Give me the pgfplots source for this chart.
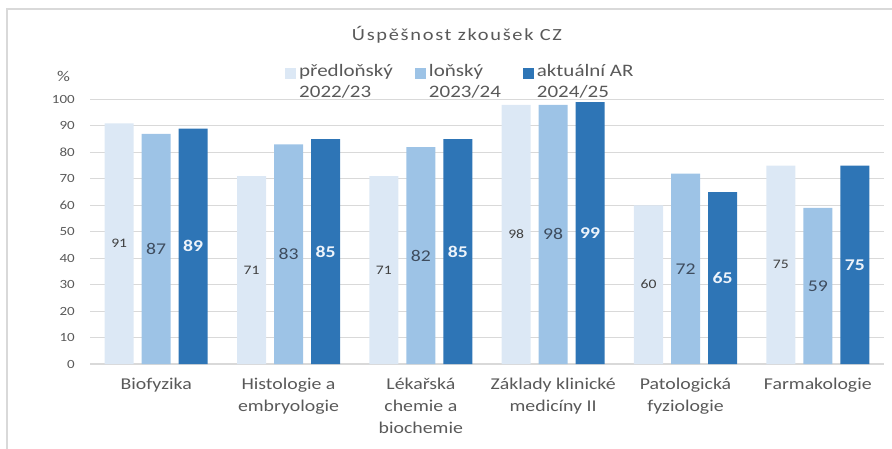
\documentclass[border=0pt]{standalone}
\usepackage{pgfplots}
\pgfplotsset{compat=1.18}
\usepackage{fontspec}
\setmainfont{Carlito}[FakeStretch=1.2]
\newfontfamily\titlefont{Carlito}[FakeStretch=1.2,LetterSpace=10]
\definecolor{cLight}{HTML}{DCE8F5}
\definecolor{cMid}{HTML}{9DC3E6}
\definecolor{cDark}{HTML}{2E75B6}
\definecolor{txt}{HTML}{595959}
\definecolor{gridc}{HTML}{D9D9D9}
\definecolor{lblLight}{HTML}{404040}
\definecolor{lblMid}{HTML}{3E4C5E}
\definecolor{lblDark}{HTML}{EEF4FB}
\begin{document}
\begin{tikzpicture}[x=1pt,y=1pt]
\useasboundingbox (0,0) rectangle (892,448);
\draw[gridc, line width=1.5pt] (7,-10) -- (7,439) -- (900,439);
\begin{axis}[
  at={(90pt,84pt)}, anchor=south west,
  scale only axis, width=794pt, height=264.5pt,
  xmin=-0.5, xmax=5.5, ymin=0, ymax=100,
  enlargelimits=false, clip=false,
  axis lines*=left,
  x axis line style={draw=gridc, line width=1.2pt},
  y axis line style={draw=none},
  major tick length=0pt,
  ymajorgrids, grid style={draw=gridc, line width=1pt},
  ytick={0,10,...,100},
  xtick={0,...,5},
  xticklabels={Biofyzika, {Histologie a\\embryologie}, {Lékařská\\chemie a\\biochemie}, {Základy klinické\\medicíny II}, {Patologická\\fyziologie}, Farmakologie},
  xticklabel style={align=center, anchor=north, inner sep=0pt, yshift=-14pt, text=txt, font=\fontsize{16.5}{21.7}\selectfont},
  yticklabel style={anchor=east, inner sep=0pt, xshift=-15pt, text=txt, font=\fontsize{12.5}{14}\selectfont},
  /pgf/number format/assume math mode=true,
  ybar=8pt, bar width=29pt,
  nodes near coords,
  visualization depends on={y \as \rawy},
  every node near coord/.append style={anchor=center, shift={(axis direction cs:0,-\rawy/2)}},
  legend columns=3,
  legend style={at={(axis description cs:0.2456,1.142)}, anchor=north west, draw=none, fill=none, inner sep=0pt, text=txt, font=\fontsize{17.5}{21}\selectfont, nodes={align=left, inner ysep=2pt, inner xsep=3pt}, /tikz/every even column/.append style={column sep=19pt}},
  legend image code/.code={\fill[#1] (0pt,2pt) rectangle (11pt,13pt);},
]
\addplot[fill=cLight, draw=none, every node near coord/.append style={text=lblLight, font=\fontsize{13}{14}\selectfont}]
  coordinates {(0,91) (1,71) (2,71) (3,98) (4,60) (5,75)};
\addplot[fill=cMid, draw=none, every node near coord/.append style={text=lblMid, font=\fontsize{16.4}{18}\selectfont}]
  coordinates {(0,87) (1,83) (2,82) (3,98) (4,72) (5,59)};
\addplot[fill=cDark, draw=none, every node near coord/.append style={text=lblDark, font=\bfseries\fontsize{16.4}{18}\selectfont}]
  coordinates {(0,89) (1,85) (2,85) (3,99) (4,65) (5,75)};
\legend{{předloňský\\2022/23}, {loňský\\2023/24}, {aktuální AR\\2024/25}}
\end{axis}
\node[anchor=base, text=txt, font=\titlefont\fontsize{17}{18}\selectfont] at (457,407) {Úspěšnost zkoušek CZ};
\node[anchor=base, text=txt, font=\fontsize{15}{16}\selectfont] at (63.5,366) {\%};
\end{tikzpicture}
\end{document}
